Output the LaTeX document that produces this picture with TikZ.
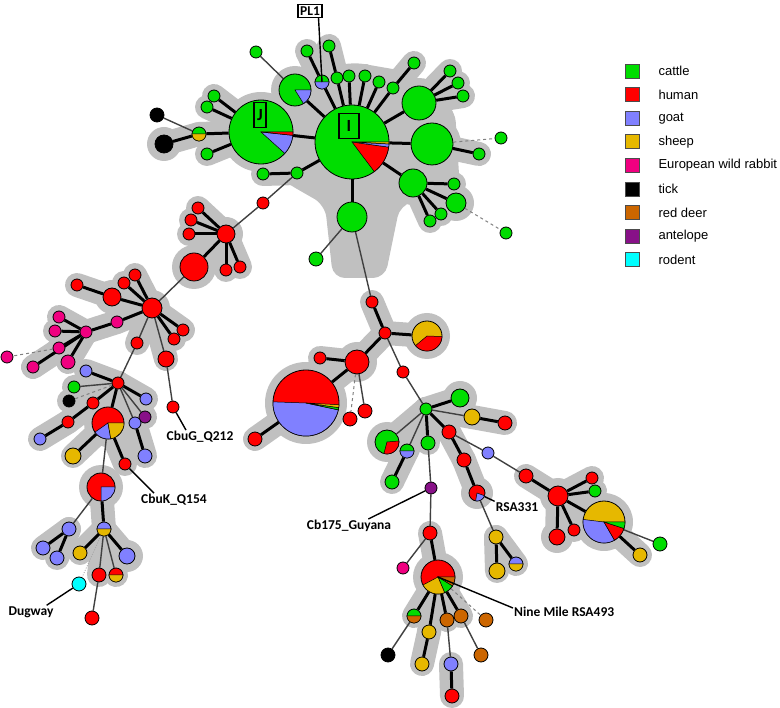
\documentclass[tikz,border=0pt]{standalone}
\usepackage{fontspec}
\setmainfont{Liberation Sans}
\newfontfamily\labelfont{Carlito}
\usetikzlibrary{positioning}
\definecolor{cattleC}{RGB}{0,221,0}
\definecolor{humanC}{RGB}{255,0,0}
\definecolor{goatC}{RGB}{128,128,255}
\definecolor{sheepC}{RGB}{230,184,0}
\definecolor{rabbitC}{RGB}{240,0,128}
\definecolor{tickC}{RGB}{0,0,0}
\definecolor{deerC}{RGB}{204,102,0}
\definecolor{antelopeC}{RGB}{136,17,136}
\definecolor{rodentC}{RGB}{0,255,255}
\definecolor{haloC}{RGB}{192,192,192}
\definecolor{linkC}{RGB}{64,64,64}

\pgfdeclarelayer{halo}
\pgfdeclarelayer{edges}
\pgfsetlayers{halo,edges,main}

% one coloured slice of a pie node
\newcommand{\pieslice}[5]{%
  \filldraw[fill=#5, line width=0.5pt] (#1.center) -- ++(#3:#2pt)
    arc[start angle=#3, end angle=#4, radius=#2pt] -- cycle;}

\tikzset{
  dot/.style={circle, draw=black, line width=0.8pt, inner sep=0pt, minimum size=12pt},
  rad/.style={minimum size=#1*2pt},
  cattle/.style={dot, fill=cattleC},
  human/.style={dot, fill=humanC},
  goat/.style={dot, fill=goatC},
  sheep/.style={dot, fill=sheepC},
  rabbit/.style={dot, fill=rabbitC},
  tick/.style={dot, fill=tickC},
  deer/.style={dot, fill=deerC},
  antelope/.style={dot, fill=antelopeC},
  rodent/.style={dot, fill=rodentC},
  link/.style={draw=linkC, line width=1.4pt},
  strong/.style={draw=black, line width=3pt},
  dashlink/.style={draw=gray, line width=1pt, dash pattern=on 3pt off 3pt},
  dotlink/.style={draw=gray!70, line width=0.8pt, dash pattern=on 1pt off 1.5pt},
  halo/.style={draw=haloC, line width=24pt, line cap=round, line join=round},
  tag/.style={font=\labelfont\bfseries\fontsize{13.5}{15}\selectfont, inner sep=1pt},
  boxtag/.style={tag, draw=black, line width=1.3pt, inner sep=2pt},
  piletter/.style={boxtag, font=\labelfont\bfseries\fontsize{17}{18}\selectfont,
    minimum height=25pt},
  pointer/.style={draw=black, line width=1.4pt},
  legendbox/.style={draw=black!70, line width=0.6pt, minimum size=14pt, inner sep=0pt},
}

\begin{document}
\begin{tikzpicture}[x=1pt,y=-1pt]
\useasboundingbox (0,0) rectangle (780,708);

% top cluster
\node[cattle, rad=37] (I) at (352,142) {};
\node[cattle, rad=32] (J) at (261,132) {};
\node[cattle, rad=16] (P1) at (295,90) {};
\node[cattle, rad=7] (PL) at (322,82) {};
\node[cattle] (g1) at (256,52) {};
\node[cattle] (g2) at (307,51) {};
\node[cattle] (g3) at (329,46) {};
\node[cattle] (g4) at (337,78) {};
\node[cattle] (g5) at (349,76) {};
\node[cattle] (g6) at (365,76) {};
\node[cattle] (g7) at (379,82) {};
\node[cattle] (g8) at (393,88) {};
\node[cattle] (g9) at (414,63) {};
\node[cattle, rad=17] (gA) at (419,103) {};
\node[cattle] (gA1) at (450,71) {};
\node[cattle] (gA2) at (458,83) {};
\node[cattle] (gA3) at (463,96) {};
\node[cattle, rad=21] (gB) at (432,144) {};
\node[cattle] (gB1) at (479,154) {};
\node[cattle] (gB2) at (501,138) {};
\node[cattle, rad=14] (gC) at (413,183) {};
\node[cattle] (gC1) at (454,184) {};
\node[cattle, rad=10] (gC2) at (456,203) {};
\node[cattle] (gC3) at (441,214) {};
\node[cattle] (gC4) at (430,221) {};
\node[cattle] (gC5) at (506,233) {};
\node[cattle, rad=15] (gD) at (352,217) {};
\node[cattle, rad=7] (gD1) at (316,259) {};
\node[cattle] (gE) at (297,173) {};
\node[cattle] (gE1) at (263,174) {};
\node[cattle, rad=7] (jh) at (199,134) {};
\node[tick, rad=7] (tk1) at (157,115) {};
\node[tick, rad=9] (tk2) at (164,144) {};
\node[cattle] (j1) at (214,96) {};
\node[cattle] (j2) at (207,107) {};
\node[cattle] (j3) at (207,154) {};

\pieslice{I}{37}{-53}{-8}{humanC}
\pieslice{I}{37}{-8}{-3}{goatC}
\pieslice{I}{37}{-3}{0}{sheepC}
\pieslice{J}{32}{-42}{-6}{goatC}
\pieslice{J}{32}{-6}{0}{humanC}
\pieslice{P1}{16}{-58}{0}{goatC}
\pieslice{PL}{7}{180}{360}{goatC}
\pieslice{jh}{7}{180}{360}{sheepC}

% human / rabbit branch
\node[human] (r0) at (263,203) {};
\node[human, rad=9] (rH) at (226,234) {};
\node[human] (r1) at (198,208) {};
\node[human] (r2) at (191,220) {};
\node[human] (r3) at (189,234) {};
\node[human] (r4) at (226,270) {};
\node[human] (r5) at (240,267) {};
\node[human, rad=14] (rB) at (194,267) {};
\node[human, rad=10] (hH) at (152,308) {};
\node[human] (h1) at (77,285) {};
\node[human, rad=9] (h2) at (112,297) {};
\node[human] (h3) at (124,283) {};
\node[human] (h4) at (135,275) {};
\node[human] (h5) at (183,330) {};
\node[human] (h6) at (174,339) {};
\node[human] (h7) at (137,343) {};
\node[human, rad=8] (h8) at (166,359) {};
\node[human] (h9) at (173,407) {};
\node[rabbit] (p0) at (117,322) {};
\node[rabbit] (pH) at (86,332) {};
\node[rabbit] (p1) at (59,317) {};
\node[rabbit] (p2) at (55,331) {};
\node[rabbit] (p3) at (59,348) {};
\node[rabbit, rad=7] (p4) at (68,362) {};
\node[rabbit] (p5) at (33,367) {};
\node[rabbit] (p6) at (7,357) {};

% goat branch
\node[human] (kH) at (118,383) {};
\node[goat] (k1) at (86,371) {};
\node[cattle] (k2) at (74,387) {};
\node[tick] (k3) at (69,401) {};
\node[human] (k4) at (93,403) {};
\node[human] (k5) at (68,422) {};
\node[goat] (k6) at (40,439) {};
\node[goat] (k7) at (146,399) {};
\node[antelope] (k8) at (145,417) {};
\node[goat] (k9) at (135,423) {};
\node[goat, rad=7] (k10) at (145,456) {};
\node[human, rad=16] (kP) at (108,423) {};
\node[sheep, rad=8] (k11) at (73,456) {};
\node[human] (k12) at (125,464) {};
\node[human, rad=14] (qP) at (101,487) {};
\node[goat, rad=7] (q1) at (69,529) {};
\node[goat, rad=7] (q2) at (43,548) {};
\node[goat, rad=7] (q3) at (57,558) {};
\node[goat, rad=7] (qh) at (104,529) {};
\node[sheep, rad=7] (q4) at (80,553) {};
\node[goat, rad=8] (q5) at (127,556) {};
\node[human, rad=7] (q6) at (99,575) {};
\node[human, rad=7] (q7) at (116,575) {};
\node[rodent, rad=7] (q8) at (79,584) {};
\node[human, rad=7] (q9) at (92,618) {};

\pieslice{kP}{16}{-145}{-80}{goatC}
\pieslice{kP}{16}{-80}{0}{sheepC}
\pieslice{qP}{14}{-90}{0}{goatC}
\pieslice{qh}{7}{180}{360}{sheepC}
\pieslice{q7}{7}{180}{360}{sheepC}

% middle branch
\node[human] (m1) at (372,302) {};
\node[human] (m2) at (385,333) {};
\node[sheep, rad=15] (mP) at (427,336) {};
\node[human, rad=12] (m3) at (357,362) {};
\node[human] (m4) at (320,358) {};
\node[human, rad=33] (mB) at (306,403) {};
\node[human, rad=7] (m5) at (255,439) {};
\node[human, rad=7] (m6) at (365,411) {};
\node[human, rad=7] (m7) at (350,419) {};
\node[human] (m8) at (403,372) {};

\pieslice{mP}{15}{-140}{-2}{humanC}
\pieslice{mB}{33}{178}{348}{goatC}
\pieslice{mB}{33}{348}{352}{cattleC}
\pieslice{mB}{33}{352}{357}{sheepC}

% lower right branch
\node[cattle] (nH) at (426,409) {};
\node[cattle, rad=9] (n1) at (460,398) {};
\node[sheep, rad=8] (n2) at (472,417) {};
\node[human, rad=7] (n3) at (505,423) {};
\node[human, rad=7] (n4) at (449,432) {};
\node[human, rad=7] (n5) at (464,460) {};
\node[human, rad=8] (nP) at (477,493) {};
\node[sheep, rad=7] (n6) at (496,537) {};
\node[sheep, rad=8] (n7) at (497,571) {};
\node[goat, rad=7] (n8) at (516,564) {};
\node[goat] (n9) at (488,453) {};
\node[human, rad=7] (n10) at (526,476) {};
\node[cattle, rad=12] (n11) at (387,442) {};
\node[cattle, rad=7] (n12) at (407,451) {};
\node[cattle, rad=7] (n13) at (392,482) {};
\node[cattle, rad=7] (n14) at (428,443) {};
\node[antelope] (n15) at (431,488) {};

\pieslice{nP}{8}{-100}{-20}{goatC}
\pieslice{n8}{7}{180}{360}{sheepC}
\pieslice{n11}{12}{-105}{5}{humanC}
\pieslice{n12}{7}{180}{360}{goatC}

\node[human, rad=10] (sH) at (558,496) {};
\node[human] (s1) at (592,478) {};
\node[cattle] (s2) at (595,491) {};
\node[sheep, rad=21] (sP) at (604,522) {};
\node[human, rad=8] (s3) at (557,537) {};
\node[human] (s4) at (574,530) {};
\node[cattle, rad=7] (s5) at (660,544) {};
\node[sheep, rad=7] (s6) at (640,555) {};

\pieslice{sP}{21}{173}{300}{goatC}
\pieslice{sP}{21}{300}{342}{humanC}
\pieslice{sP}{21}{342}{360}{cattleC}

\node[human, rad=7] (t0) at (430,533) {};
\node[rabbit] (t1) at (403,568) {};
\node[human, rad=17] (tP) at (438,577) {};
\node[cattle, rad=7] (t2) at (414,616) {};
\node[sheep, rad=7] (t3) at (429,632) {};
\node[deer, rad=7] (t4) at (447,620) {};
\node[deer, rad=7] (t5) at (461,616) {};
\node[deer, rad=7] (t6) at (486,620) {};
\node[tick, rad=7] (t7) at (388,655) {};
\node[sheep, rad=7] (t8) at (422,664) {};
\node[goat, rad=7] (t9) at (451,664) {};
\node[deer, rad=7] (t10) at (481,655) {};
\node[human, rad=7] (t11) at (452,696) {};

\pieslice{tP}{17}{-32}{0}{deerC}
\pieslice{tP}{17}{-67}{-32}{cattleC}
\pieslice{tP}{17}{-152}{-67}{sheepC}
\pieslice{t2}{7}{180}{360}{deerC}

% labels
\node[boxtag] (pl1) at (310,11) {PL1};
\node[piletter, minimum width=12pt] (labJ) at (260,115) {J};
\node[piletter, minimum width=20pt] (labI) at (349,126) {I};
\node[tag] (cbug) at (200,437) {CbuG\_Q212};
\node[tag] (cbuk) at (174,500) {CbuK\_Q154};
\node[tag] (dug) at (31,612) {Dugway};
\node[tag] (cb175) at (349,526) {Cb175\_Guyana};
\node[tag] (rsa331) at (517,507) {RSA331};
\node[tag, anchor=west] (nm) at (513,612) {Nine Mile RSA493};

\draw[pointer] ([xshift=-4pt]pl1.south east) -- (PL.center);
\draw[pointer] (h9) -- ([xshift=-14pt]cbug.north);
\draw[pointer] (k12) -- ([xshift=14pt]cbuk.north west);
\draw[pointer] ([xshift=-8pt]dug.north east) -- (q8);
\draw[pointer] ([xshift=-24pt]cb175.north east) -- (n15);
\draw[pointer] (nP) -- (rsa331.north west);
\draw[pointer] (tP.center) -- ([yshift=-2pt]nm.north west);

% legend
\foreach \c/\t [count=\i from 0] in {cattleC/cattle, humanC/human, goatC/goat,
    sheepC/sheep, rabbitC/European wild rabbit, tickC/tick, deerC/red deer,
    antelopeC/antelope, rodentC/rodent}
{
  \node[legendbox, fill=\c] (sw\i) at (632,{71+23.6*\i}) {};
  \node[anchor=west, font=\fontsize{13}{15}\selectfont] (lt\i) at (655,{71+23.6*\i}) {\t};
}

% connectors
\begin{pgfonlayer}{edges}
\foreach \a/\b in {I/J, I/P1, I/PL, I/g4, I/g5, I/g6, I/g7, I/g8, I/gA, I/gB, I/gC,
    I/gD, I/gE, PL/g2, g4/g3, g8/g9, gA/gA1, gA/gA2, gA/gA3, gB/gB1, gC/gC1,
    gC/gC2, gC/gC3, gC/gC4, gE/gE1, J/j1, J/j2, J/j3, J/jh, jh/tk2,
    rH/r1, rH/r2, rH/r3, rH/r4, rH/r5, rH/rB,
    hH/h2, h2/h1, hH/h3, hH/h4, hH/h5, hH/h6, hH/p0, p0/pH, pH/p1, pH/p2,
    pH/p3, pH/p4, pH/p5,
    kH/k1, kH/k4, k4/k5, k5/k6, kH/k7, kH/kP, kP/k11, kP/k12, k9/k10,
    qP/qh, q1/q2, q1/q3, qh/q4, qh/q5,
    m1/m2, m2/mP, m2/m3, m3/mB, m3/m4, mB/m5,
    nH/n1, nH/n4, n4/n5, n5/nP, n2/n3, nH/n14, n12/n13, n6/n7, n6/n8,
    n10/sH, sH/s1, sH/s2, sH/sP, sH/s3, sH/s4, sP/s6,
    t0/tP, tP/t2, tP/t3, tP/t4, tP/t5, t3/t8, t9/t11}
  \draw[strong] (\a) -- (\b);
\foreach \a/\b in {P1/g1, jh/tk1, gE/r0, r0/rH, gD/gD1, gD/m1, rB/hH,
    hH/h7, hH/h8, h7/kH, h8/h9, kH/k2, kH/k8, kH/k9, kP/qP, qP/q1,
    qh/q6, qh/q7, q6/q9, m3/m6, m2/m8, m8/nH,
    nH/n2, nH/n11, nH/n12, n4/n9, n9/n10, nP/n6, n14/n15, n15/t0, sP/s5,
    t0/t1, t2/t7, t4/t9, t5/t10}
  \draw[link] (\a) -- (\b);
\foreach \a/\b in {gB/gB2, gC2/gC5, p3/p6, kH/k3, m3/m7, tP/t6}
  \draw[dashlink] (\a) -- (\b);
\draw[dotlink] (qh) -- (q8);
\end{pgfonlayer}

% grey halos round the clusters
\begin{pgfonlayer}{halo}
\fill[haloC, rounded corners=12pt] (265,110) -- (300,75) -- (352,62) -- (410,72)
  -- (455,110) -- (460,190) -- (400,205) -- (385,278) -- (333,278) -- (325,205)
  -- (290,185) -- (260,165) -- cycle;
\foreach \a/\b in {I/J, I/P1, I/PL, I/g4, I/g5, I/g6, I/g7, I/g8, I/gA, I/gB, I/gC,
    I/gD, I/gE, PL/g2, g4/g3, g8/g9, gA/gA1, gA/gA2, gA/gA3, gB/gB1, gC/gC1,
    gC/gC2, gC/gC3, gC/gC4, gE/gE1, J/j1, J/j2, J/j3, J/jh, jh/tk2,
    rH/r1, rH/r2, rH/r3, rH/r4, rH/r5, rH/rB,
    hH/h2, h2/h1, hH/h3, hH/h4, hH/h5, hH/h6, hH/p0, p0/pH, pH/p1, pH/p2,
    pH/p3, pH/p4, pH/p5, hH/h7, hH/h8,
    kH/k1, kH/k4, k4/k5, k5/k6, kH/k7, kH/kP, kP/k11, kP/k12, k9/k10,
    kH/k2, kH/k8, kH/k9, kH/k3,
    qP/qh, q1/q2, q1/q3, qh/q4, qh/q5, qh/q6, qh/q7,
    m1/m2, m2/mP, m2/m3, m3/mB, m3/m4, mB/m5,
    nH/n1, nH/n4, n4/n5, n5/nP, n2/n3, nH/n14, n12/n13, n6/n7, n6/n8,
    nH/n2, nH/n11, nH/n12,
    n10/sH, sH/s1, sH/s2, sH/sP, sH/s3, sH/s4, sP/s6,
    t0/tP, tP/t2, tP/t3, tP/t4, tP/t5, t3/t8, t9/t11}
  \draw[halo] (\a.center) -- (\b.center);
\foreach \n/\r in {I/37, J/32, P1/16, gA/17, gB/21, gC/14, gC2/10, gD/15, tk2/9,
    rH/9, rB/14, hH/10, h2/9, kP/16, qP/14, q5/8, mP/15, m3/12, mB/33,
    n1/9, n11/12, nP/8, sH/10, sP/21, s3/8, tP/17}
  \fill[haloC] (\n.center) circle[radius=\r pt+8pt];
\end{pgfonlayer}
\end{tikzpicture}
\end{document}
